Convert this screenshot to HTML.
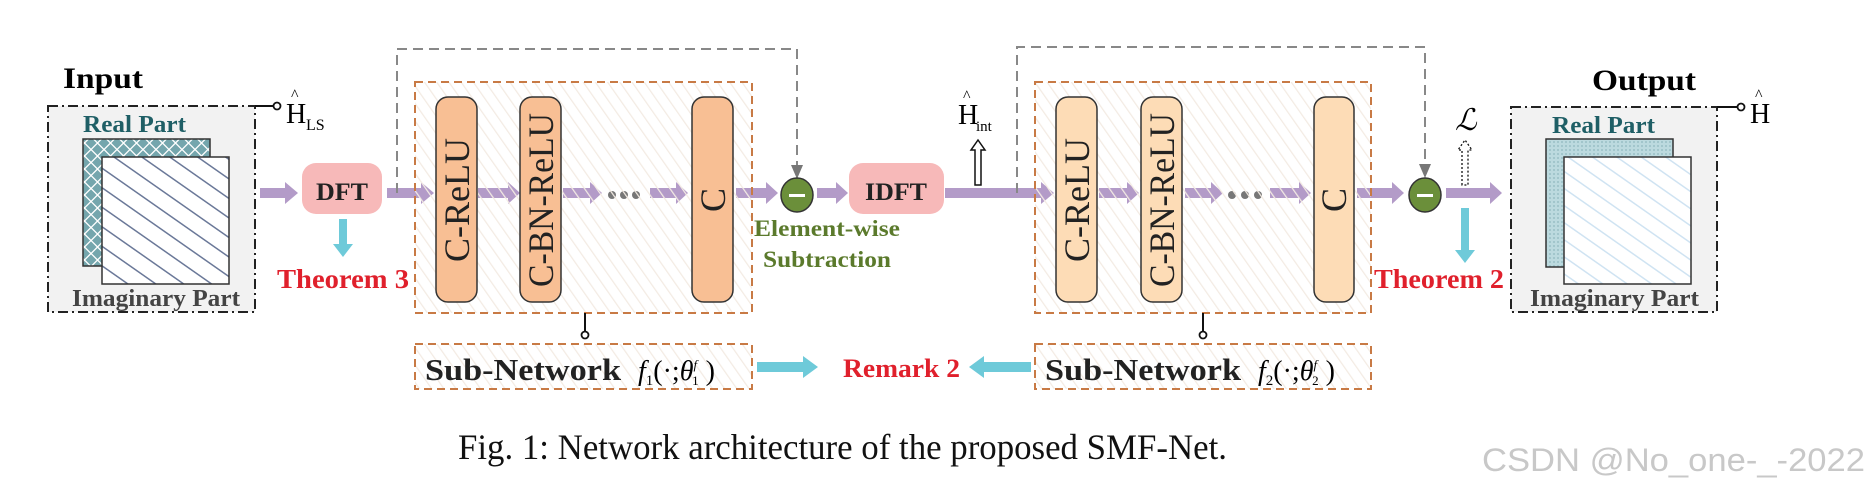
<!DOCTYPE html>
<html><head><meta charset="utf-8"><style>html,body{margin:0;padding:0;background:#fff}svg{display:block}text{font-family:"Liberation Serif",serif}</style></head><body>
<svg width="1869" height="491" viewBox="0 0 1869 491" xmlns="http://www.w3.org/2000/svg">
<defs>
<pattern id="hatch" width="10" height="10" patternUnits="userSpaceOnUse" patternTransform="rotate(-35)"><line x1="0" y1="0" x2="0" y2="10" stroke="#f3ebe3" stroke-width="2.5"/></pattern>
<pattern id="diam" width="13" height="13" patternUnits="userSpaceOnUse"><rect width="13" height="13" fill="#74a6ad"/><path d="M0 6.5L6.5 0L13 6.5L6.5 13Z" fill="none" stroke="#fff" stroke-width="1.3"/></pattern>
<pattern id="stripe" width="16" height="16" patternUnits="userSpaceOnUse" patternTransform="rotate(-55)"><rect width="16" height="16" fill="#fff"/><line x1="0" y1="0" x2="0" y2="16" stroke="#6a7898" stroke-width="3"/></pattern>
<pattern id="dots" width="4" height="4" patternUnits="userSpaceOnUse"><rect width="4" height="4" fill="#bcdadf"/><circle cx="2" cy="2" r="0.9" fill="#8fb8bf"/></pattern>
<pattern id="lstripe" width="14" height="14" patternUnits="userSpaceOnUse" patternTransform="rotate(-55)"><rect width="14" height="14" fill="#fff"/><line x1="0" y1="0" x2="0" y2="14" stroke="#cfe3f2" stroke-width="3"/></pattern>
</defs>
<!-- input box -->
<rect x="48" y="106" width="207" height="206" fill="#f2f2f2" stroke="#222" stroke-width="2" stroke-dasharray="10,4,2,4"/>
<text x="63" y="88" font-size="30" font-weight="bold" textLength="80" lengthAdjust="spacingAndGlyphs">Input</text>
<text x="83" y="132" font-size="24" font-weight="bold" fill="#1f5f66" textLength="103" lengthAdjust="spacingAndGlyphs">Real Part</text>
<rect x="83" y="139" width="127" height="127" fill="url(#diam)" stroke="#333" stroke-width="1.5"/>
<rect x="102" y="157" width="127" height="127" fill="url(#stripe)" stroke="#333" stroke-width="1.5"/>
<text x="72" y="306" font-size="24" font-weight="bold" fill="#444" textLength="168" lengthAdjust="spacingAndGlyphs">Imaginary Part</text>
<line x1="255" y1="106" x2="274" y2="106" stroke="#111" stroke-width="2"/><circle cx="277" cy="106" r="3.5" fill="#fff" stroke="#111" stroke-width="1.8"/>
<text x="286" y="123" font-size="28">H</text><text x="291" y="100" font-size="16">^</text><text x="306" y="130" font-size="16">LS</text>
<!-- output box -->
<rect x="1511" y="107" width="206" height="205" fill="#f2f2f2" stroke="#222" stroke-width="2" stroke-dasharray="10,4,2,4"/>
<text x="1592" y="90" font-size="30" font-weight="bold" textLength="104" lengthAdjust="spacingAndGlyphs">Output</text>
<text x="1552" y="133" font-size="24" font-weight="bold" fill="#1f5f66" textLength="103" lengthAdjust="spacingAndGlyphs">Real Part</text>
<rect x="1546" y="139" width="127" height="128" fill="url(#dots)" stroke="#333" stroke-width="1.5"/>
<rect x="1564" y="157" width="127" height="127" fill="url(#lstripe)" stroke="#333" stroke-width="1.5"/>
<text x="1530" y="306" font-size="24" font-weight="bold" fill="#444" textLength="169" lengthAdjust="spacingAndGlyphs">Imaginary Part</text>
<line x1="1717" y1="107" x2="1737" y2="107" stroke="#111" stroke-width="2"/><circle cx="1741" cy="107" r="3.5" fill="#fff" stroke="#111" stroke-width="1.8"/>
<text x="1750" y="123" font-size="28">H</text><text x="1755" y="100" font-size="16">^</text>
<!-- purple arrows -->
<g fill="#b39bc8">
<path d="M260 188 H285 V182 L298 193 L285 204 V198 H260Z"/>
<path d="M387 188 H421 V182 L434 193 L421 204 V198 H387Z"/>
<path d="M478 188 H508 V182 L520 193 L508 204 V198 H478Z"/>
<path d="M563 188 H590 V182 L602 193 L590 204 V198 H563Z"/>
<path d="M650 188 H676 V182 L688 193 L676 204 V198 H650Z"/>
<path d="M736 188 H766 V182 L778 193 L766 204 V198 H736Z"/>
<path d="M817 188 H836 V182 L848 193 L836 204 V198 H817Z"/>
<path d="M945 188 H1041 V182 L1054 193 L1041 204 V198 H945Z"/>
<path d="M1099 188 H1127 V182 L1139 193 L1127 204 V198 H1099Z"/>
<path d="M1185 188 H1211 V182 L1223 193 L1211 204 V198 H1185Z"/>
<path d="M1270 188 H1299 V182 L1311 193 L1299 204 V198 H1270Z"/>
<path d="M1357 188 H1392 V182 L1404 193 L1392 204 V198 H1357Z"/>
<path d="M1446 188 H1490 V182 L1502 193 L1490 204 V198 H1446Z"/>
</g>
<g fill="#777"><circle cx="612" cy="195" r="4"/><circle cx="624" cy="195" r="4"/><circle cx="636" cy="195" r="4"/>
<circle cx="1232" cy="195" r="4"/><circle cx="1245" cy="195" r="4"/><circle cx="1258" cy="195" r="4"/></g>
<!-- skip connections -->
<path d="M397 193 V49 H797 V170" fill="none" stroke="#888" stroke-width="2" stroke-dasharray="10,6"/>
<path d="M791 165 L797 179 L803 165Z" fill="#777"/>
<path d="M1017 193 V47 H1425 V168" fill="none" stroke="#888" stroke-width="2" stroke-dasharray="10,6"/>
<path d="M1419 164 L1425 178 L1431 164Z" fill="#777"/>
<!-- DFT / IDFT -->
<rect x="302" y="163" width="80" height="51" rx="14" fill="#f7b9b9"/>
<text x="342" y="200" font-size="25" font-weight="bold" text-anchor="middle" fill="#222" textLength="52" lengthAdjust="spacingAndGlyphs">DFT</text>
<rect x="849" y="163" width="95" height="51" rx="14" fill="#f7b9b9"/>
<text x="896" y="200" font-size="25" font-weight="bold" text-anchor="middle" fill="#222" textLength="62" lengthAdjust="spacingAndGlyphs">IDFT</text>
<!-- f boxes -->
<rect x="415" y="82" width="337" height="231" fill="url(#hatch)" stroke="#c87a45" stroke-width="2" stroke-dasharray="8,5"/>
<rect x="1035" y="82" width="336" height="231" fill="url(#hatch)" stroke="#c87a45" stroke-width="2" stroke-dasharray="8,5"/>
<g stroke="#333" stroke-width="1.5">
<rect x="436" y="97" width="41" height="205" rx="12" fill="#f8bf94"/>
<rect x="520" y="97" width="41" height="205" rx="12" fill="#f8bf94"/>
<rect x="692" y="97" width="41" height="205" rx="12" fill="#f8bf94"/>
<rect x="1056" y="97" width="41" height="205" rx="12" fill="#fddcb6"/>
<rect x="1141" y="97" width="41" height="205" rx="12" fill="#fddcb6"/>
<rect x="1314" y="97" width="40" height="205" rx="12" fill="#fddcb6"/>
</g>
<g font-size="36" fill="#222" text-anchor="middle">
<text transform="translate(469,200) rotate(-90)">C-ReLU</text>
<text transform="translate(553,200) rotate(-90)" textLength="174" lengthAdjust="spacingAndGlyphs">C-BN-ReLU</text>
<text transform="translate(725,200) rotate(-90)">C</text>
<text transform="translate(1089,200) rotate(-90)">C-ReLU</text>
<text transform="translate(1174,200) rotate(-90)" textLength="174" lengthAdjust="spacingAndGlyphs">C-BN-ReLU</text>
<text transform="translate(1346,200) rotate(-90)">C</text>
</g>
<!-- circles -->
<ellipse cx="797" cy="195" rx="16" ry="17" fill="#6b8f3a" stroke="#333" stroke-width="1.5"/><rect x="789" y="194" width="16" height="3" fill="#fff"/>
<ellipse cx="1425" cy="195" rx="16" ry="17" fill="#6b8f3a" stroke="#333" stroke-width="1.5"/><rect x="1417" y="194" width="16" height="3" fill="#fff"/>
<text x="754" y="236" font-size="23" font-weight="bold" fill="#5b7a2c" textLength="146" lengthAdjust="spacingAndGlyphs">Element-wise</text>
<text x="763" y="267" font-size="23" font-weight="bold" fill="#5b7a2c" textLength="128" lengthAdjust="spacingAndGlyphs">Subtraction</text>
<!-- H_int, L -->
<text x="958" y="124" font-size="28">H</text><text x="963" y="101" font-size="16">^</text><text x="976" y="131" font-size="15">int</text>
<path d="M975 185 V150 H971 L978 140 L985 150 H981 V185Z" fill="#fff" stroke="#111" stroke-width="1.5"/>
<text x="1455" y="130" font-size="30" font-style="italic">ℒ</text>
<path d="M1462 185 V150 H1458 L1465 140 L1472 150 H1468 V185Z" fill="#fff" stroke="#111" stroke-width="1.3" stroke-dasharray="2,2"/>
<!-- cyan arrows -->
<g fill="#6ecad9">
<path d="M339 219 H347 V244 H353 L343 257 L333 244 H339Z"/>
<path d="M1461 208 H1469 V250 H1475 L1465 263 L1455 250 H1461Z"/>
<path d="M757 362 H803 V356 L818 367 L803 378 V372 H757Z"/>
<path d="M1031 362 H984 V356 L969 367 L984 378 V372 H1031Z"/>
</g>
<text x="277" y="288" font-size="27" font-weight="bold" fill="#e0202c" textLength="132" lengthAdjust="spacingAndGlyphs">Theorem 3</text>
<text x="1374" y="288" font-size="27" font-weight="bold" fill="#e0202c" textLength="130" lengthAdjust="spacingAndGlyphs">Theorem 2</text>
<text x="843" y="377" font-size="26" font-weight="bold" fill="#e0202c" textLength="117" lengthAdjust="spacingAndGlyphs">Remark 2</text>
<!-- sub-network -->
<line x1="585" y1="313" x2="585" y2="331" stroke="#111" stroke-width="2"/><circle cx="585" cy="335" r="3.5" fill="#fff" stroke="#111" stroke-width="1.8"/>
<line x1="1203" y1="313" x2="1203" y2="331" stroke="#111" stroke-width="2"/><circle cx="1203" cy="335" r="3.5" fill="#fff" stroke="#111" stroke-width="1.8"/>
<rect x="415" y="344" width="337" height="45" fill="url(#hatch)" stroke="#c87a45" stroke-width="2" stroke-dasharray="8,5"/>
<rect x="1035" y="344" width="336" height="45" fill="url(#hatch)" stroke="#c87a45" stroke-width="2" stroke-dasharray="8,5"/>
<text x="425" y="380" font-size="31" font-weight="bold" fill="#222" textLength="196" lengthAdjust="spacingAndGlyphs">Sub-Network</text>
<text x="638" y="380" font-size="28" font-style="italic">f<tspan font-size="15" font-style="normal" dy="5">1</tspan><tspan dy="-5" font-style="normal">(·;</tspan>θ<tspan font-size="13" dy="-11">f</tspan><tspan font-size="13" font-style="normal" dx="-5" dy="16">1</tspan><tspan font-style="normal" dy="-5"> )</tspan></text>
<text x="1045" y="380" font-size="31" font-weight="bold" fill="#222" textLength="196" lengthAdjust="spacingAndGlyphs">Sub-Network</text>
<text x="1258" y="380" font-size="28" font-style="italic">f<tspan font-size="15" font-style="normal" dy="5">2</tspan><tspan dy="-5" font-style="normal">(·;</tspan>θ<tspan font-size="13" dy="-11">f</tspan><tspan font-size="13" font-style="normal" dx="-5" dy="16">2</tspan><tspan font-style="normal" dy="-5"> )</tspan></text>
<!-- caption -->
<text x="458" y="459" font-size="36" fill="#111" textLength="769" lengthAdjust="spacingAndGlyphs">Fig. 1: Network architecture of the proposed SMF-Net.</text>
<text x="1482" y="471" font-size="32" fill="#c8c8c8" textLength="383" lengthAdjust="spacingAndGlyphs" style="font-family:'Liberation Sans',sans-serif">CSDN @No_one-_-2022</text>
</svg>
</body></html>
